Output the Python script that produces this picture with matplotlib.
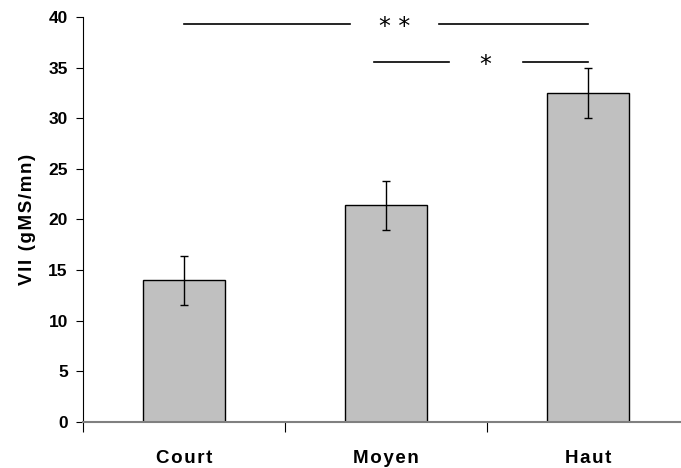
import matplotlib
matplotlib.use("Agg")
import matplotlib.pyplot as plt

categories = ["Court", "Moyen", "Haut"]
values = [14.0, 21.4, 32.5]
errors = [2.4, 2.45, 2.45]
yticks = [0, 5, 10, 15, 20, 25, 30, 35, 40]

plt.rcParams['font.family'] = ['Liberation Sans', 'DejaVu Sans']

HS = "\u200a"

def spaced(s):
    return HS.join(list(s))

fig = plt.figure(figsize=(6.81, 4.68), dpi=100)
ax = fig.add_axes([0.122, 0.0983, 0.878, 0.8654])

x = list(range(len(categories)))
ax.bar(x, values, width=0.406, color="#c0c0c0", edgecolor="black", linewidth=1.0, zorder=2)
ax.errorbar(x, values, yerr=errors, fmt="none", ecolor="black", elinewidth=1.0, capsize=3, capthick=1.0, zorder=3)

ax.set_xlim(-0.5, 2.46)
ax.set_ylim(0, 40)
ax.set_yticks(yticks)
ax.set_yticklabels([str(t) for t in yticks], fontsize=12.5, fontweight="bold")

ax.set_xticks([-0.5, 0.5, 1.5])
ax.set_xticklabels([])
ax.set_xticks(x, minor=True)
ax.set_xticklabels([spaced(c) for c in categories], minor=True, fontsize=13.5, fontweight="bold")
ax.tick_params(axis="x", which="minor", length=0, pad=20)
ax.tick_params(axis="x", which="major", length=7, direction="out", color="black", width=0.8)
ax.tick_params(axis="y", length=5, direction="out", width=0.8, pad=6)

ax.spines["top"].set_visible(False)
ax.spines["right"].set_visible(False)
ax.spines["left"].set_color("black")
ax.spines["bottom"].set_color("#808080")
ax.spines["bottom"].set_linewidth(1.5)

ax.set_ylabel(spaced("VII (gMS/mn)"), fontsize=13.5, fontweight="bold", labelpad=9)

# significance annotations
lkw = dict(color="black", linewidth=1.2, clip_on=False)
ax.plot([0.0, 0.82], [39.3, 39.3], **lkw)
ax.plot([1.26, 2.0], [39.3, 39.3], **lkw)
ax.text(1.04, 39.0, "* *", ha="center", va="center", fontsize=17, family="DejaVu Sans")
ax.plot([0.94, 1.31], [35.6, 35.6], **lkw)
ax.plot([1.68, 2.0], [35.6, 35.6], **lkw)
ax.text(1.49, 35.3, "*", ha="center", va="center", fontsize=17, family="DejaVu Sans")

fig.savefig("out.png", dpi=100)
